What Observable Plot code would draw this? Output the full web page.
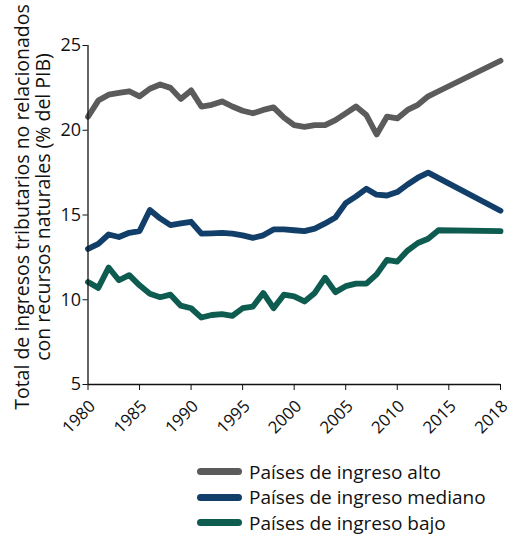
<!DOCTYPE html>
<html>
<head>
<meta charset="utf-8">
<script src="https://cdn.jsdelivr.net/npm/d3@7"></script>
<script src="https://cdn.jsdelivr.net/npm/@observablehq/plot@0.6"></script>
<style>
  html, body { margin: 0; padding: 0; background: #fff; }
  body { width: 512px; height: 539px; overflow: hidden; font-family: "Open Sans", sans-serif; }
  #legend { margin-left: 197px; margin-top: 14px; }
  .row { display: flex; align-items: center; height: 25.5px; font-size: 19px; color: #111; }
  .sw { width: 45px; height: 7px; border-radius: 4px; margin-right: 7px; }
</style>
</head>
<body>
<div id="chart"></div>
<div id="legend"></div>
<script>
const years = [1980,1981,1982,1983,1984,1985,1986,1987,1988,1989,1990,1991,1992,1993,1994,1995,1996,1997,1998,1999,2000,2001,2002,2003,2004,2005,2006,2007,2008,2009,2010,2011,2012,2013,2014,2018];
const high = [20.8,21.75,22.1,22.2,22.3,22.0,22.45,22.7,22.5,21.85,22.35,21.4,21.5,21.7,21.4,21.15,21.0,21.2,21.35,20.75,20.3,20.2,20.3,20.3,20.6,21.0,21.4,20.9,19.75,20.8,20.7,21.2,21.5,22.0,22.3,24.1];
const mid = [13.0,13.3,13.85,13.7,13.95,14.05,15.3,14.8,14.4,14.5,14.6,13.9,13.92,13.95,13.9,13.8,13.65,13.8,14.15,14.15,14.1,14.05,14.2,14.5,14.85,15.7,16.1,16.55,16.2,16.15,16.35,16.8,17.2,17.5,null,15.25];
const low = [11.05,10.7,11.9,11.15,11.45,10.85,10.35,10.15,10.3,9.65,9.5,8.95,9.1,9.15,9.05,9.5,9.6,10.4,9.5,10.3,10.2,9.9,10.4,11.3,10.45,10.8,10.95,10.95,11.5,12.35,12.25,12.9,13.35,13.6,14.1,14.05];
const seriesNames = ["Países de ingreso alto","Países de ingreso mediano","Países de ingreso bajo"];
const seriesColors = ["#5b5b5b","#123f69","#0e5b50"];
const xTicks = [1980,1985,1990,1995,2000,2005,2010,2015,2018];
const yTicks = [5,10,15,20,25];
const yLabel = "Total de ingresos tributarios no relacionados\ncon recursos naturales (% del PIB)";

const seriesValues = [high, mid, low];
const data = [];
seriesNames.forEach((name, i) => {
  years.forEach((yr, j) => {
    const v = seriesValues[i][j];
    if (v != null) data.push({series: name, year: yr, value: v});
  });
});

const W = 512, H = 445;
const plot = Plot.plot({
  width: W,
  height: H,
  marginLeft: 87.5,
  marginRight: 12,
  marginTop: 45,
  marginBottom: 61,
  style: {fontFamily: "Open Sans, sans-serif", fontSize: "16px", color: "#111", background: "#fff"},
  x: {type: "linear", domain: [1980, 2015, 2018], range: [87.5, 448.3, 500]},
  y: {type: "linear", domain: [5, 25], range: [384, 45]},
  color: {domain: seriesNames, range: seriesColors},
  marks: [
    Plot.line(data, {x: "year", y: "value", z: "series", stroke: "series", strokeWidth: 5.8, strokeLinejoin: "round", strokeLinecap: "round"}),
    Plot.ruleX([1980], {stroke: "#111", strokeWidth: 1.3}),
    Plot.ruleY([5], {stroke: "#111", strokeWidth: 1.6}),
    Plot.axisY({ticks: yTicks, tickSize: 5, tickPadding: 2, label: null, fontSize: 18, stroke: "#111"}),
    Plot.axisX({ticks: xTicks, tickFormat: () => "", tickSize: 6, label: null, stroke: "#111"}),
    Plot.axisX({ticks: xTicks, tickFormat: d => String(d), tickSize: 0, tickPadding: 8, tickRotate: -45, dx: 4.5, dy: 11, label: null, fontSize: 16.8, fill: "#111"}),
    Plot.text([yLabel], {frameAnchor: "left", text: d => d, rotate: -90, dx: -55.5, dy: -8, fontSize: 19.5, lineHeight: 1.08, fill: "#111", textAnchor: "middle"})
  ]
});
document.getElementById("chart").appendChild(plot);

const legend = document.getElementById("legend");
seriesNames.forEach((name, i) => {
  const row = document.createElement("div");
  row.className = "row";
  const sw = document.createElement("span");
  sw.className = "sw";
  sw.style.background = seriesColors[i];
  const t = document.createElement("span");
  t.textContent = name;
  row.appendChild(sw);
  row.appendChild(t);
  legend.appendChild(row);
});
</script>
</body>
</html>
